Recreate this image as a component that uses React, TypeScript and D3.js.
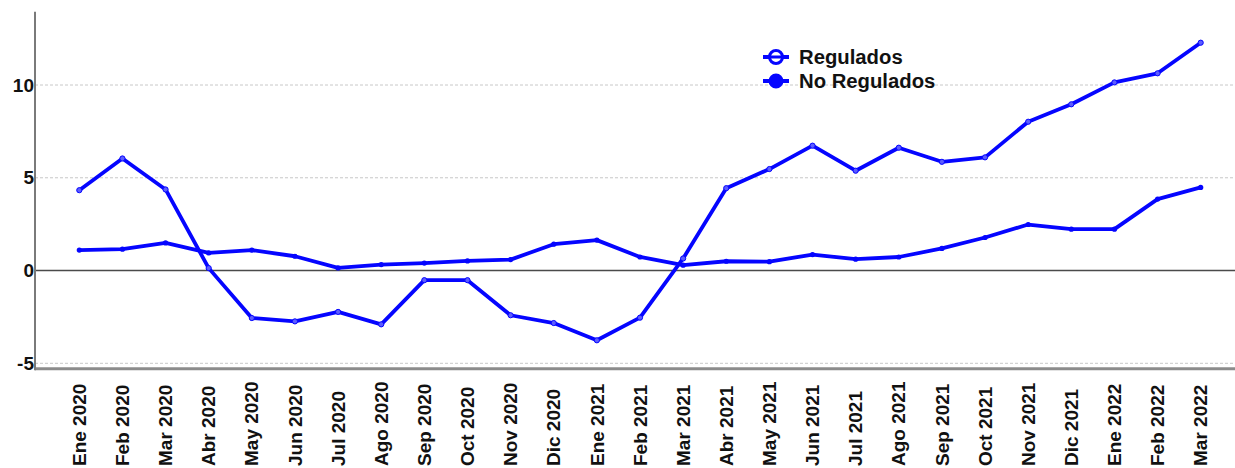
import React from "react";
import * as d3 from "d3";

const categories = [
  "Ene 2020", "Feb 2020", "Mar 2020", "Abr 2020", "May 2020", "Jun 2020", "Jul 2020",
  "Ago 2020", "Sep 2020", "Oct 2020", "Nov 2020", "Dic 2020", "Ene 2021", "Feb 2021",
  "Mar 2021", "Abr 2021", "May 2021", "Jun 2021", "Jul 2021", "Ago 2021", "Sep 2021",
  "Oct 2021", "Nov 2021", "Dic 2021", "Ene 2022", "Feb 2022", "Mar 2022",
];

const regulados = [
  4.33, 6.04, 4.37, 0.13, -2.56, -2.74, -2.23, -2.9, -0.52, -0.52, -2.41, -2.83, -3.76, -2.54,
  0.65, 4.44, 5.47, 6.73, 5.38, 6.62, 5.86, 6.1, 8.02, 8.96, 10.14, 10.63, 12.28,
];

const noRegulados = [
  1.1, 1.15, 1.49, 0.95, 1.1, 0.77, 0.14, 0.32, 0.4, 0.52, 0.59, 1.42, 1.64, 0.73,
  0.29, 0.5, 0.48, 0.86, 0.61, 0.73, 1.19, 1.78, 2.48, 2.23, 2.23, 3.85, 4.48,
];

const yTicks = [-5, 0, 5, 10];
const gridTicks = [-5, 5, 10];
const seriesNames = ["Regulados", "No Regulados"];

const W = 1235;
const H = 468;
const BLUE = "#0505ff";
const FONT = "'Liberation Sans', Arial, sans-serif";

export default function App() {
  const x = d3.scaleLinear().domain([0, categories.length - 1]).range([79.3, 1200.7]);
  const y = d3.scaleLinear().domain([-5, 10]).range([363.3, 85]);
  const axisX = 35;
  const yTop = y(13.95);
  const yBottom = y(-5.3);

  const line = d3
    .line<number>()
    .x((_, i) => x(i))
    .y((d) => y(d));

  return (
    <div style={{ position: "absolute", left: 0, top: 0 }}>
      <svg width={W} height={H} style={{ display: "block", background: "#fff" }}>
        {gridTicks.map((t) => (
          <line
            key={"g" + t}
            x1={axisX}
            x2={W}
            y1={y(t)}
            y2={y(t)}
            stroke="#c8c8c8"
            strokeWidth={1}
            strokeDasharray="3,2"
          />
        ))}
        <line x1={axisX} x2={W} y1={y(0)} y2={y(0)} stroke="#4a4a4a" strokeWidth={1.5} />
        <line x1={axisX} x2={W} y1={yBottom} y2={yBottom} stroke="#8c8c8c" strokeWidth={3} />
        <line x1={axisX} x2={axisX} y1={yTop} y2={yBottom + 1.5} stroke="#7a7a7a" strokeWidth={2} />

        {yTicks.map((t) => (
          <text
            key={"yt" + t}
            x={axisX - 1}
            y={y(t)}
            dy="0.35em"
            textAnchor="end"
            fontFamily={FONT}
            fontWeight="bold"
            fontSize={19}
            fill="#111"
          >
            {t}
          </text>
        ))}

        {categories.map((c, i) => (
          <text
            key={c}
            transform={`translate(${x(i)},466) rotate(-90)`}
            dy="0.35em"
            textAnchor="start"
            fontFamily={FONT}
            fontWeight="bold"
            fontSize={19}
            fill="#111"
          >
            {c}
          </text>
        ))}

        <path d={line(noRegulados) || ""} fill="none" stroke={BLUE} strokeWidth={3.8} strokeLinejoin="round" />
        <path d={line(regulados) || ""} fill="none" stroke={BLUE} strokeWidth={3.8} strokeLinejoin="round" />
        {noRegulados.map((v, i) => (
          <circle key={"n" + i} cx={x(i)} cy={y(v)} r={2.6} fill={BLUE} />
        ))}
        {regulados.map((v, i) => (
          <circle key={"r" + i} cx={x(i)} cy={y(v)} r={2.6} fill="#5c5cff" stroke={BLUE} strokeWidth={1} />
        ))}

        {seriesNames.map((name, i) => {
          const cy = 57 + i * 24;
          return (
            <g key={name}>
              <line x1={763} x2={789} y1={cy} y2={cy} stroke={BLUE} strokeWidth={4} />
              <circle
                cx={776}
                cy={cy}
                r={i === 0 ? 6.5 : 6}
                fill={i === 0 ? "#fff" : BLUE}
                stroke={BLUE}
                strokeWidth={3}
              />
              {i === 0 && <line x1={768} x2={784} y1={cy} y2={cy} stroke={BLUE} strokeWidth={3} />}
              <text
                x={799}
                y={cy + 7}
                fontFamily={FONT}
                fontWeight="bold"
                fontSize={20.3}
                fill="#111"
              >
                {name}
              </text>
            </g>
          );
        })}
      </svg>
    </div>
  );
}
